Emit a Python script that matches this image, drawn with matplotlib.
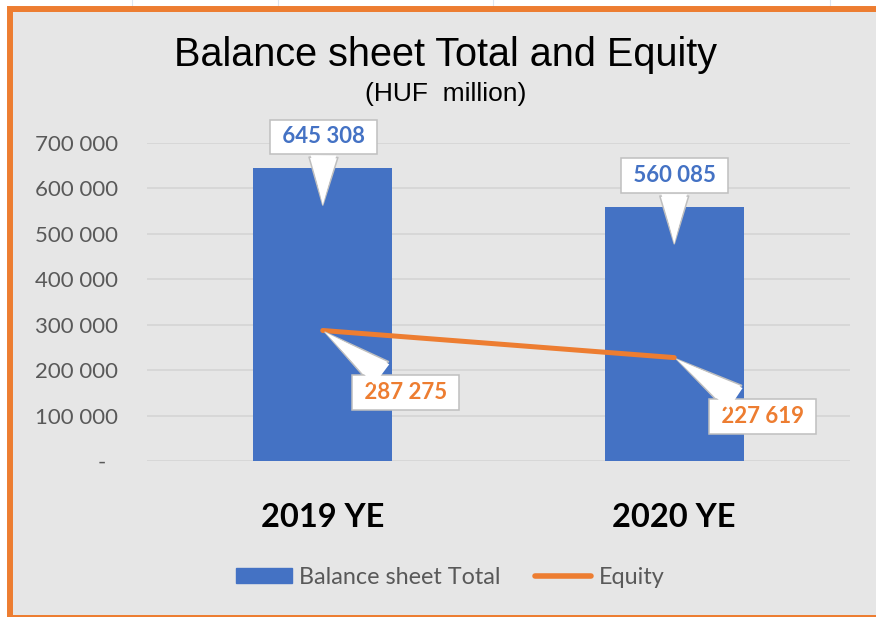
import matplotlib
matplotlib.use("Agg")
import matplotlib.pyplot as plt
import matplotlib.transforms as mtransforms
from matplotlib.patches import Rectangle, Patch
from matplotlib.lines import Line2D

categories = ["2019 YE", "2020 YE"]
balance_total = [645308, 560085]
equity = [287275, 227619]
y_ticks = [0, 100000, 200000, 300000, 400000, 500000, 600000, 700000]

BLUE = "#4472C4"
ORANGE = "#ED7D31"
BG = "#E6E6E6"
GRID = "#D6D6D6"
TICK = "#595959"

plt.rcParams["font.family"] = ["Lato", "DejaVu Sans"]

W, H = 876, 617
fig = plt.figure(figsize=(W / 100, H / 100), dpi=100)
fig.patch.set_facecolor("white")

# faint spreadsheet gridlines in the white strip at the top
for px in [132, 278, 493, 830]:
    fig.add_artist(Line2D([px / W, px / W], [1, 1 - 8 / H],
                          transform=fig.transFigure, color="#DCE6F2", lw=0.8,
                          zorder=-2))

# chart area with orange border
fig.add_artist(Rectangle((10 / W, 1 - 618 / H), 1.0, (618 - 9) / H,
                         transform=fig.transFigure, facecolor=BG,
                         edgecolor=ORANGE, linewidth=4.3, clip_on=False,
                         zorder=-1))

ax = fig.add_axes([147 / W, 1 - 461 / H, 703 / W, 318 / H])
ax.set_facecolor("none")

x = list(range(len(categories)))
ax.bar(x, balance_total, width=0.395, color=BLUE, zorder=2)
ax.plot(x, equity, color=ORANGE, lw=3.6, solid_capstyle="round", zorder=3)

ax.set_xlim(-0.5, 1.5)
ax.set_ylim(0, 700000)
ax.set_yticks(y_ticks)
ax.set_yticklabels(["-  " if v == 0 else f"{v:,}".replace(",", " ")
                    for v in y_ticks])
ax.set_xticks(x)
ax.set_xticklabels(categories, fontsize=23.5, fontweight="bold", color="black")
ax.tick_params(axis="y", length=0, pad=21, labelsize=16, labelcolor=TICK)
ax.tick_params(axis="x", length=0, pad=30)
ax.grid(axis="y", color=GRID, lw=1.3, zorder=0)
ax.set_axisbelow(True)
for s in ax.spines.values():
    s.set_visible(False)


def callout(xv, yv, text, color, dy_tip, off):
    tr = mtransforms.offset_copy(ax.transData, fig=fig, x=0, y=dy_tip,
                                 units="dots")
    wedge = "wedge,tail_width=1.3,shrink_factor=0.5"
    ax.annotate(text, xy=(xv, yv), xycoords=tr,
                xytext=off, textcoords="offset pixels",
                ha="center", va="center", fontsize=16, fontweight="bold",
                color=color, zorder=5, annotation_clip=False,
                bbox=dict(boxstyle="square,pad=0.3", fc="white",
                          ec="#BFBFBF", lw=1.1),
                arrowprops=dict(arrowstyle=wedge, fc="white", ec="#BFBFBF",
                                lw=1.1))
    # white wedge on top to hide the box border where the pointer joins
    ax.annotate(text, xy=(xv, yv), xycoords=tr,
                xytext=off, textcoords="offset pixels",
                ha="center", va="center", fontsize=16, fontweight="bold",
                color="none", zorder=6, annotation_clip=False,
                bbox=dict(boxstyle="square,pad=0.3", fc="none", ec="none"),
                arrowprops=dict(arrowstyle="wedge,tail_width=1.15,shrink_factor=0.5",
                                fc="white", ec="none", shrinkA=-1))


fmt = lambda v: " " + f"{v:,}".replace(",", " ") + " "
callout(0, balance_total[0], fmt(balance_total[0]), BLUE, -40, (1, 71))
callout(1, balance_total[1], fmt(balance_total[1]), BLUE, -40, (0, 71))
callout(0, equity[0], fmt(equity[0]), ORANGE, 0, (83, -62))
callout(1, equity[1], fmt(equity[1]), ORANGE, 0, (88, -59))

fig.text(446 / W, 1 - 55 / H, "Balance sheet Total and Equity",
         ha="center", va="center", fontsize=28.5, family="Liberation Sans")
fig.text(446 / W, 1 - 94 / H, "(HUF  million)",
         ha="center", va="center", fontsize=19, family="Liberation Sans")

handles = [Patch(facecolor=BLUE, edgecolor=BLUE),
           Line2D([0], [0], color=ORANGE, lw=4, solid_capstyle="round")]
fig.legend(handles, ["Balance sheet Total", "Equity"], loc="center",
           bbox_to_anchor=(450 / W, 1 - 577 / H), ncol=2, frameon=False,
           fontsize=16.8, labelcolor=TICK, handlelength=2.4, handleheight=0.6,
           handletextpad=0.3, columnspacing=1.5)

fig.savefig("out.png", dpi=100)
